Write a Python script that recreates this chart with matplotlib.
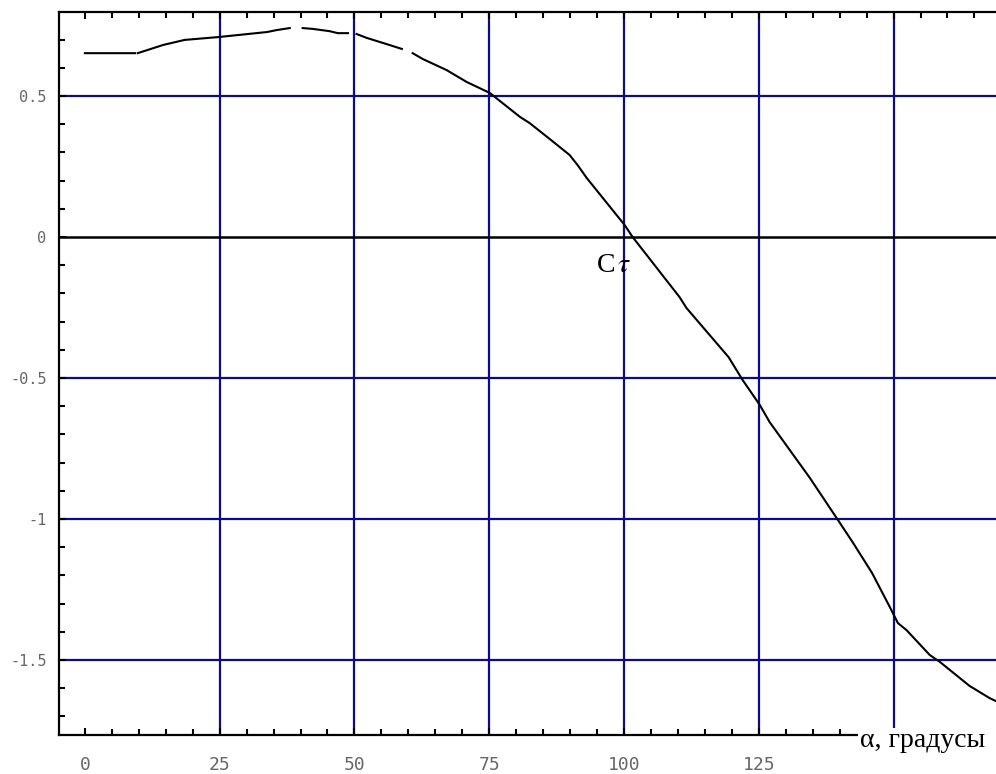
import numpy as np
import matplotlib
matplotlib.use("Agg")
import matplotlib.pyplot as plt
from matplotlib.ticker import FixedLocator, FixedFormatter, MultipleLocator
from matplotlib.patches import Rectangle

plt.rcParams['axes.unicode_minus'] = False
plt.rcParams['mathtext.fontset'] = 'stix'

#curve, nan = break in the drawn line
alpha_deg = [0, 9.3, np.nan, 9.8, 14.5, 18.5, 24.7, 33.8, 35.6, 38.0, np.nan,
             40.4, 42.3, 45.4, 46.9, 48.8, np.nan, 50.4, 52.3, 56.0, 58.8, np.nan,
             60.8, 62.7, 67.1, 70.8, 75.1, 80.7, 82.5, 86.2, 89.9, 91.4, 93.1,
             100.1, 101.6, 110.3, 111.6, 119.4, 122.0, 125.2, 127.0, 134.5, 139.7,
             142.4, 146.0, 149.3, 150.8, 152.4, 156.7, 158.6, 164.1, 167.8, 170.0]
c_tau = [0.652, 0.652, np.nan, 0.652, 0.681, 0.699, 0.709, 0.727, 0.734, 0.741, np.nan,
         0.741, 0.738, 0.730, 0.723, 0.723, np.nan, 0.720, 0.706, 0.684, 0.667, np.nan,
         0.652, 0.631, 0.592, 0.550, 0.511, 0.426, 0.404, 0.348, 0.291, 0.255, 0.209,
         0.043, 0.0, -0.213, -0.252, -0.426, -0.507, -0.596, -0.656, -0.855, -1.004,
         -1.082, -1.191, -1.312, -1.369, -1.394, -1.482, -1.507, -1.592, -1.635, -1.655]

x_ticks = [0, 25, 50, 75, 100, 125, 150]
x_labels = ['0', '25', '50', '75', '100', '125', '']
y_ticks = [0.5, 0, -0.5, -1, -1.5]
y_labels = ['0.5', '0', '-0.5', '-1', '-1.5']
x_grid = [25, 50, 75, 100, 125, 150]
y_grid = [0.5, -0.5, -1, -1.5]

grid_color = '#0c0c88'
label_color = '#666666'

fig = plt.figure(figsize=(9.96, 7.74), dpi=100)
ax = fig.add_axes([59/996, 39/774, 1 - 59/996, 723/774])

for xg in x_grid:
    ax.axvline(xg, color=grid_color, lw=1.6, zorder=1)
for yg in y_grid:
    ax.axhline(yg, color=grid_color, lw=1.6, zorder=1)
ax.axhline(0, color='black', lw=1.8, zorder=2)

ax.plot(alpha_deg, c_tau, color='black', lw=1.5, zorder=3)

ax.set_xlim(-4.8, 169)
ax.set_ylim(-1.766, 0.798)

ax.spines['right'].set_visible(False)
for s in ['left', 'top', 'bottom']:
    ax.spines[s].set_linewidth(1.6)

ax.xaxis.set_major_locator(FixedLocator(x_ticks))
ax.xaxis.set_major_formatter(FixedFormatter(x_labels))
ax.xaxis.set_minor_locator(MultipleLocator(5))
ax.yaxis.set_major_locator(FixedLocator(y_ticks))
ax.yaxis.set_major_formatter(FixedFormatter(y_labels))
ax.yaxis.set_minor_locator(MultipleLocator(0.1))

ax.tick_params(which='both', direction='in', top=True, right=False, width=1.5)
ax.tick_params(which='major', length=5)
ax.tick_params(which='minor', length=4)
ax.tick_params(axis='y', which='major', pad=9, labelsize=11, labelcolor=label_color)
ax.tick_params(axis='x', which='major', pad=15, labelsize=13, labelcolor=label_color)
for lab in ax.get_xticklabels() + ax.get_yticklabels():
    lab.set_family('DejaVu Sans Mono')

ax.text(94.8, -0.124, r'C$\,\tau$', fontsize=20, family='Liberation Serif',
        va='baseline', ha='left', zorder=4)

#white box under the axis label hides the end of the axis
fig.patches.append(Rectangle((858/996, 0), 1, 46/774, transform=fig.transFigure,
                             facecolor='white', edgecolor='none', zorder=5))
fig.text(860/996, 27/774, 'α, градусы', fontsize=20, family='Liberation Serif',
         va='baseline', ha='left', zorder=6)

fig.savefig('out.png', dpi=100)
